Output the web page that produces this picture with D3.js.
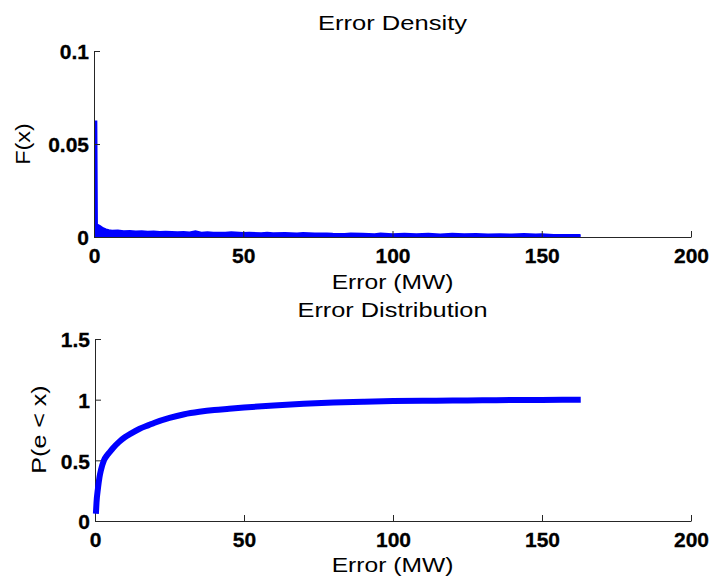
<!DOCTYPE html>
<html><head><meta charset="utf-8">
<script src="https://cdn.jsdelivr.net/npm/d3@7"></script>
<style>
body{margin:0;background:#fff;}
svg{display:block;}
text{font-family:"Liberation Sans",Arial,Helvetica,sans-serif;fill:#000;}
</style></head>
<body>
<svg id="c" width="715" height="584"></svg>
<script>
// ---- data ----
const xTicks = [0, 50, 100, 150, 200];
const densTicks = [0, 0.05, 0.1];
const cdfTicks = [0, 0.5, 1, 1.5];

const densX = [0, 0.7, 0.9, 1.2, 2, 3, 4, 5, 6, 8, 10, 12, 14, 16, 18, 20, 22, 24, 26, 28, 30, 32, 34, 36, 38, 40, 44, 46, 50, 52, 56, 58, 60, 64, 68, 70, 74, 78, 80, 84, 86, 90, 94, 96, 100, 104, 108, 112, 116, 120, 124, 128, 132, 136, 140, 144, 148, 150, 154, 158, 162, 163];
const densY = [0.062, 0.062, 0.0068, 0.0064, 0.0058, 0.0046, 0.0039, 0.0035, 0.0032, 0.0033, 0.0030, 0.0031, 0.0028, 0.0029, 0.0027, 0.0028, 0.0025, 0.0027, 0.0026, 0.0024, 0.0025, 0.0023, 0.0029, 0.0022, 0.0024, 0.0022, 0.0021, 0.0024, 0.0020, 0.0022, 0.0019, 0.0021, 0.0019, 0.0020, 0.0018, 0.0020, 0.0017, 0.0018, 0.0016, 0.0015, 0.0018, 0.0016, 0.0013, 0.0017, 0.0014, 0.0016, 0.0013, 0.0016, 0.0012, 0.0016, 0.0013, 0.0015, 0.0012, 0.0014, 0.0012, 0.0015, 0.0012, 0.0014, 0.0010, 0.0010, 0.0009, 0.0009];

const cdfX = [0.3, 0.5, 1, 1.5, 2, 3, 4, 5, 6, 8, 10, 12, 15, 18, 20, 25, 30, 35, 40, 45, 50, 60, 70, 80, 90, 100, 110, 120, 130, 140, 150, 163];
const cdfY = [0.06, 0.15, 0.27, 0.36, 0.42, 0.50, 0.54, 0.57, 0.60, 0.65, 0.69, 0.72, 0.76, 0.79, 0.81, 0.85, 0.88, 0.90, 0.915, 0.925, 0.935, 0.952, 0.966, 0.976, 0.983, 0.988, 0.991, 0.993, 0.995, 0.997, 0.998, 1.0];

const titles = ["Error Density", "Error Distribution"];
const xLabel = "Error (MW)";
const yLabels = ["F(x)", "P(e < x)"];

// ---- drawing ----
const svg = d3.select("#c");
const blue = "#0000ff";
const axisCol = "#262626";

const xTop = d3.scaleLinear().domain([0, 200]).range([94, 691]);
const yTop = d3.scaleLinear().domain([0, 0.1]).range([237, 51]);
const xBot = d3.scaleLinear().domain([0, 200]).range([95, 691]);
const yBot = d3.scaleLinear().domain([0, 1.5]).range([521, 339]);

function styleAxis(g) {
  g.select(".domain").attr("stroke", axisCol).attr("stroke-width", 1);
  g.selectAll(".tick line").attr("stroke", axisCol).attr("stroke-width", 1);
  g.selectAll(".tick text").attr("font-size", 21).attr("font-weight", "bold")
    .attr("font-family", '"Liberation Sans",Arial,sans-serif').attr("fill", "#000")
    .attr("stroke", "#000").attr("stroke-width", 0.3);
}

function drawAxes(x, y, yTicksArr) {
  const gx = svg.append("g").attr("transform", `translate(0,${y.range()[0]})`)
    .call(d3.axisBottom(x).tickValues(xTicks).tickSizeInner(-6).tickSizeOuter(0)
      .tickPadding(11).tickFormat(d => String(d)));
  styleAxis(gx);
  const gy = svg.append("g").attr("transform", `translate(${x.range()[0]},0)`)
    .call(d3.axisLeft(y).tickValues(yTicksArr).tickSizeInner(-6).tickSizeOuter(0)
      .tickPadding(5).tickFormat(d => String(d)));
  styleAxis(gy);
  gy.selectAll(".tick text").attr("dy", "0.38em");
}

// top: density
const densData = densX.map((d, i) => ({x: d, y: densY[i]}));
svg.append("path").datum(densData)
  .attr("d", d3.area().x(d => xTop(d.x)).y0(yTop(0)).y1(d => yTop(d.y)))
  .attr("fill", blue);
svg.append("path").datum(densData)
  .attr("d", d3.line().x(d => xTop(d.x)).y(d => yTop(d.y)))
  .attr("fill", "none").attr("stroke", blue).attr("stroke-width", 2.5)
  .attr("stroke-linejoin", "miter");
drawAxes(xTop, yTop, densTicks);

// bottom: cdf
const cdfData = cdfX.map((d, i) => ({x: d, y: cdfY[i]}));
drawAxes(xBot, yBot, cdfTicks);
svg.append("path").datum(cdfData)
  .attr("d", d3.line().curve(d3.curveMonotoneX).x(d => xBot(d.x)).y(d => yBot(d.y)))
  .attr("fill", "none").attr("stroke", blue).attr("stroke-width", 6)
  .attr("stroke-linecap", "butt").attr("stroke-linejoin", "round");

// texts
function label(txt, x, y, len, rot) {
  const t = svg.append("text").text(txt)
    .attr("font-size", 21).attr("text-anchor", "middle")
    .attr("textLength", len).attr("lengthAdjust", "spacingAndGlyphs");
  if (rot) t.attr("transform", `translate(${x},${y}) rotate(-90)`);
  else t.attr("x", x).attr("y", y);
}
label(titles[0], 392.5, 29.5, 149);
label(xLabel, 392.5, 289.3, 121.7);
label(titles[1], 392.5, 316.7, 190);
label(xLabel, 392.5, 572, 121.7);
label(yLabels[0], 30, 144, 41.7, true);
label(yLabels[1], 45.6, 429.5, 88.3, true);
</script>
</body></html>
